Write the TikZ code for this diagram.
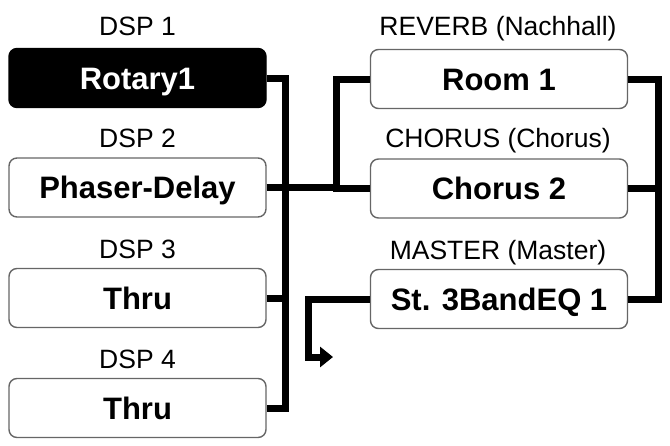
\documentclass[tikz,border=0pt]{standalone}
\usepackage{fontspec}
\setmainfont{Liberation Sans}
\usetikzlibrary{positioning,arrows.meta}

\tikzset{
    fxbox/.style={draw=black!60, line width=1.4pt, rounded corners=8pt, fill=white,
        minimum width=257pt, minimum height=59pt, inner sep=0pt,
        text height=22.5pt, text depth=0pt, font=\fontsize{31}{31}\selectfont\bfseries},
    fxtag/.style={anchor=base, inner sep=0pt, font=\fontsize{26.5}{26.5}\selectfont},
    wire/.style={line width=7pt, black}
}

\begin{document}
\begin{tikzpicture}[x=1pt, y=-1pt]
    \useasboundingbox (0,0) rectangle (670,445);

    % DSP blocks
    \node[fxbox, fill=black, draw=black, text=white] (dsp1) at (137.5,78) {Rotary1};
    \node[fxbox] (dsp2) at (137.5,187.5) {Phaser-Delay};
    \node[fxbox] (dsp3) at (137.5,298) {Thru};
    \node[fxbox] (dsp4) at (137.5,408) {Thru};

    % Effect blocks
    \node[fxbox] (rev) at (499,79) {Room 1};
    \node[fxbox] (cho) at (499,188.5) {Chorus 2};
    \node[fxbox] (mas) at (499,299) {St. 3BandEQ 1};

    % Titles
    \node[fxtag] (t1) at (137.5,35) {DSP 1};
    \node[fxtag] (t2) at (137.5,147) {DSP 2};
    \node[fxtag] (t3) at (137.5,258) {DSP 3};
    \node[fxtag] (t4) at (137.5,368) {DSP 4};
    \node[fxtag] (trev) at (498,35) {REVERB (Nachhall)};
    \node[fxtag] (tcho) at (498,147) {CHORUS (Chorus)};
    \node[fxtag] (tmas) at (498,259) {MASTER (Master)};

    % Bus points
    \coordinate (lbus) at (285.5,250);
    \coordinate (mbus) at (336,130);
    \coordinate (rbus) at (658,200);
    \coordinate (outc) at (308,330);
    \coordinate (outend) at (333,357);

    % Wiring
    \draw[wire] (dsp1.east) -| (lbus) |- (dsp4.east);
    \draw[wire] (dsp3.east) -- (dsp3.east -| lbus);
    \draw[wire] (dsp2.east) -- (dsp2.east -| mbus);
    \draw[wire] (rev.west) -| (mbus) |- (cho.west);
    \draw[wire] (rev.east) -| (rbus) |- (mas.east);
    \draw[wire] (cho.east) -- (cho.east -| rbus);
    \draw[wire, -{Triangle[length=13pt, width=20pt]}] (mas.west) -| (outc) |- (outend);
\end{tikzpicture}
\end{document}
